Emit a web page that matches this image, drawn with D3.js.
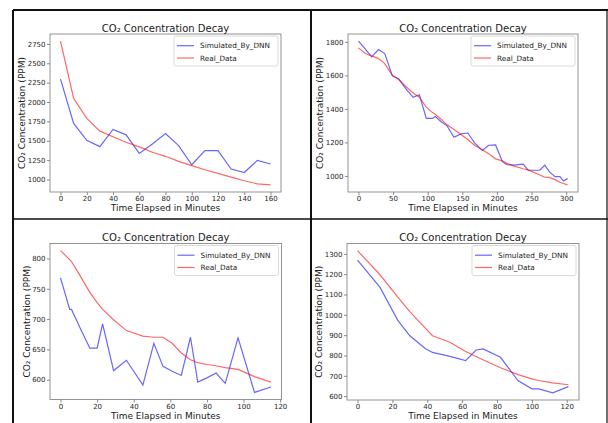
<!DOCTYPE html>
<html>
<head>
<meta charset="utf-8">
<script src="https://cdn.jsdelivr.net/npm/d3@7"></script>
<style>
  body { margin: 0; background: #fff; }
  svg { display: block; font-family: "DejaVu Sans", sans-serif; }
</style>
</head>
<body>
<svg id="chart" width="608" height="423"></svg>
<script>
// top left run
const timeTL = [0, 10, 20, 30, 40, 50, 60, 70, 80, 90, 100, 110, 120, 130, 140, 150, 160];
const simTL = [2295, 1723, 1506, 1424, 1645, 1576, 1337, 1459, 1593, 1437, 1190, 1372, 1372, 1134, 1090, 1247, 1200];
const realTL = [2785, 2048, 1789, 1624, 1551, 1481, 1421, 1351, 1299, 1234, 1178, 1126, 1078, 1031, 983, 944, 931];
const xTicksTL = [0, 20, 40, 60, 80, 100, 120, 140, 160];
const yTicksTL = [1000, 1250, 1500, 1750, 2000, 2250, 2500, 2750];

// top right run
const timeTR = [0, 10, 19, 29, 38, 49, 58, 68, 79, 88, 98, 107, 111, 119, 128, 138, 148, 158, 168, 179, 188, 198, 208, 214, 224, 238, 245, 262, 269, 276, 284, 291, 296, 302];
const simTR = [1804, 1757, 1710, 1754, 1730, 1597, 1580, 1522, 1469, 1484, 1343, 1343, 1355, 1325, 1299, 1231, 1251, 1256, 1196, 1152, 1183, 1185, 1085, 1068, 1064, 1070, 1034, 1034, 1064, 1024, 996, 996, 970, 984];
const realTR = [1764, 1730, 1716, 1700, 1670, 1600, 1575, 1535, 1495, 1470, 1410, 1378, 1368, 1340, 1305, 1277, 1247, 1217, 1182, 1156, 1133, 1102, 1090, 1075, 1060, 1043, 1036, 1006, 992, 991, 978, 962, 955, 947];
const xTicksTR = [0, 50, 100, 150, 200, 250, 300];
const yTicksTR = [1000, 1200, 1400, 1600, 1800];

// bottom left run
const timeBL = [0, 5, 6, 10, 16, 20, 23, 29, 36, 45, 51, 56, 61, 66, 71, 75, 80, 85, 90, 97, 106, 115];
const simBL = [768, 716, 716, 690, 652, 652, 692, 615, 632, 591, 660, 622, 614, 607, 670, 596, 603, 611, 594, 669, 579, 588];
const realBL = [813, 798, 795, 775, 744, 727, 716, 699, 681, 672, 670, 670, 660, 644, 633, 628, 625, 623, 620, 617, 605, 596];
const xTicksBL = [0, 20, 40, 60, 80, 100, 120];
const yTicksBL = [600, 650, 700, 750, 800];

// bottom right run
const timeBR = [0, 13, 23, 30, 39, 43, 53, 62, 68, 72, 82, 92, 100, 104, 112, 121];
const simBR = [1269, 1134, 974, 897, 833, 815, 796, 775, 827, 832, 791, 677, 636, 636, 616, 647];
const realBR = [1316, 1196, 1088, 1016, 933, 897, 865, 820, 795, 779, 740, 706, 685, 677, 665, 656];
const xTicksBR = [0, 20, 40, 60, 80, 100, 120];
const yTicksBR = [600, 700, 800, 900, 1000, 1100, 1200, 1300];

const seriesNames = ["Simulated_By_DNN", "Real_Data"];
const seriesColors = ["#0000ff", "#ff0000"];

(function () {
  const svg = d3.select("#chart");
  svg.append("rect").attr("width", 608).attr("height", 423).attr("fill", "#fff");

  const panels = [
    { time: timeTL, sim: simTL, real: realTL, xTicks: xTicksTL, yTicks: yTicksTL, left: 50, top: 34, right: 281, bottom: 192 },
    { time: timeTR, sim: simTR, real: realTR, xTicks: xTicksTR, yTicks: yTicksTR, left: 348, top: 34, right: 578, bottom: 192 },
    { time: timeBL, sim: simBL, real: realBL, xTicks: xTicksBL, yTicks: yTicksBL, left: 50, top: 243.5, right: 281.5, bottom: 399.5 },
    { time: timeBR, sim: simBR, real: realBR, xTicks: xTicksBR, yTicks: yTicksBR, left: 347, top: 243.5, right: 579, bottom: 400 }
  ];

  // matplotlib style 5% margins
  function padded(ext) {
    const d = (ext[1] - ext[0]) * 0.05;
    return [ext[0] - d, ext[1] + d];
  }

  function drawPanel(p) {
    const g = svg.append("g");
    const x = d3.scaleLinear().domain(padded(d3.extent(p.time))).range([p.left, p.right]);
    const y = d3.scaleLinear().domain(padded(d3.extent(p.sim.concat(p.real)))).range([p.bottom, p.top]);

    const line = d3.line()
      .x((d, i) => x(p.time[i]))
      .y(d => y(d));

    [p.sim, p.real].forEach((vals, k) => {
      g.append("path")
        .datum(vals)
        .attr("fill", "none")
        .attr("stroke", seriesColors[k])
        .attr("stroke-opacity", 0.6)
        .attr("stroke-width", 1.2)
        .attr("d", line);
    });

    const xAxis = g.append("g")
      .attr("transform", "translate(0," + p.bottom + ")")
      .call(d3.axisBottom(x).tickValues(p.xTicks).tickSize(3).tickPadding(1.5).tickFormat(d3.format("d")));
    const yAxis = g.append("g")
      .attr("transform", "translate(" + p.left + ",0)")
      .call(d3.axisLeft(y).tickValues(p.yTicks).tickSize(3).tickPadding(1.5).tickFormat(d3.format("d")));
    for (const ax of [xAxis, yAxis]) {
      ax.select(".domain").remove();
      ax.selectAll("line").attr("stroke", "#888");
      ax.selectAll("text").attr("font-size", 7).attr("fill", "#262626").attr("font-family", "DejaVu Sans");
    }

    g.append("rect")
      .attr("x", p.left).attr("y", p.top)
      .attr("width", p.right - p.left).attr("height", p.bottom - p.top)
      .attr("fill", "none").attr("stroke", "#888").attr("stroke-width", 0.9);

    g.append("text")
      .attr("x", (p.left + p.right) / 2).attr("y", p.top - 2.5)
      .attr("text-anchor", "middle").attr("font-size", 10).attr("fill", "#1a1a1a")
      .text("CO₂ Concentration Decay");

    g.append("text")
      .attr("x", (p.left + p.right) / 2).attr("y", p.bottom + 19)
      .attr("text-anchor", "middle").attr("font-size", 9).attr("fill", "#1a1a1a")
      .text("Time Elapsed in Minutes");

    const tickW = yAxis.node().getBBox().width;
    const lx = p.left - tickW - 5.5;
    g.append("text")
      .attr("transform", "translate(" + lx + "," + ((p.top + p.bottom) / 2) + ") rotate(-90)")
      .attr("dy", "0.35em")
      .attr("text-anchor", "middle").attr("font-size", 9).attr("fill", "#1a1a1a")
      .text("CO₂ Concentration (PPM)");

    // legend, upper right
    const bx = p.right - 107, by = p.top + 2;
    const legend = g.append("g").attr("transform", "translate(" + bx + "," + by + ")");
    legend.append("rect")
      .attr("width", 104).attr("height", 30).attr("rx", 2)
      .attr("fill", "#fff").attr("fill-opacity", 0.8)
      .attr("stroke", "#d0d0d0").attr("stroke-width", 0.8);
    seriesNames.forEach((name, k) => {
      const ly = 9.7 + k * 12.3;
      legend.append("line")
        .attr("x1", 3).attr("x2", 20).attr("y1", ly).attr("y2", ly)
        .attr("stroke", seriesColors[k]).attr("stroke-opacity", 0.6).attr("stroke-width", 1.2);
      legend.append("text")
        .attr("x", 26).attr("y", ly).attr("dy", "0.35em")
        .attr("font-size", 7.3).attr("fill", "#1a1a1a")
        .text(name);
    });
  }

  panels.forEach(drawPanel);

  // cell borders round the four plots
  const borders = [
    [13, 10, 608, 10, 2],
    [13, 10, 13, 423, 2],
    [311, 10, 311, 423, 2],
    [13, 219, 608, 219, 1.5],
    [607, 10, 607, 423, 1.2]
  ];
  svg.selectAll("line.border")
    .data(borders)
    .enter().append("line")
    .attr("class", "border")
    .attr("x1", d => d[0]).attr("y1", d => d[1])
    .attr("x2", d => d[2]).attr("y2", d => d[3])
    .attr("stroke", "#111")
    .attr("stroke-width", d => d[4]);
})();
</script>
</body>
</html>
